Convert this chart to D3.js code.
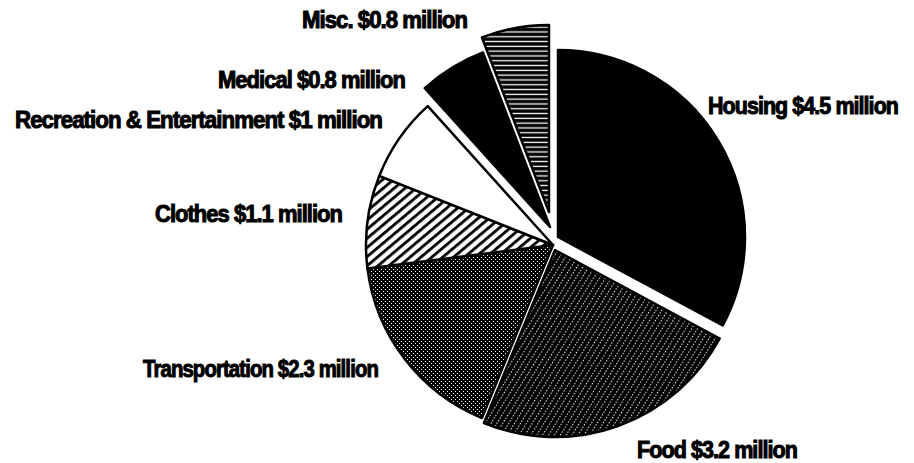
<!DOCTYPE html>
<html>
<head>
<meta charset="utf-8">
<script src="https://cdn.jsdelivr.net/npm/d3@7"></script>
<style>
  body { margin: 0; background: #fff; }
  text { font-family: 'Liberation Sans Narrow', 'Arial Narrow', 'Liberation Sans', sans-serif; font-weight: bold; }
</style>
</head>
<body>
<script>
// Data: household spending breakdown (millions of dollars)
var categories = ['Housing', 'Food', 'Transportation', 'Clothes', 'Recreation & Entertainment', 'Medical', 'Misc.'];
var values     = [4.5, 3.2, 2.3, 1.1, 1, 0.8, 0.8];
var valueText  = ['$4.5', '$3.2', '$2.3', '$1.1', '$1', '$0.8', '$0.8'];

var width  = 914,
    height = 463,
    cx = 553, cy = 245,
    radius = 187;

// how far each slice is pulled out of the pie
var explode = {
    'Housing':  [5, -8],
    'Food':     [2, 5],
    'Medical':  [-3, -18],
    'Misc.':    [-4, -33]
};

// label placement: x, baseline, anchor, width
var labelLayout = {
    'Housing':                    [708, 114, 'start', 190],
    'Food':                       [637, 458, 'start', 160],
    'Transportation':             [378, 377, 'end', 235],
    'Clothes':                    [342, 222, 'end', 187],
    'Recreation & Entertainment': [382, 128, 'end', 367],
    'Medical':                    [405, 88, 'end', 187],
    'Misc.':                      [467, 28, 'end', 165]
};

var fills = {
    'Housing': '#000',
    'Food': 'url(#pFood)',
    'Transportation': 'url(#pTrans)',
    'Clothes': 'url(#pClothes)',
    'Recreation & Entertainment': '#fff',
    'Medical': '#000',
    'Misc.': 'url(#pMisc)'
};

var data = categories.map(function(c, i) {
    return { name: c, value: values[i], label: c + ' ' + valueText[i] + ' million' };
});

var svg = d3.select('body').append('svg')
    .attr('width', width)
    .attr('height', height);

// Patterns
var defs = svg.append('defs');

// food: black with dotted white diagonals
var pf = defs.append('pattern').attr('id', 'pFood')
    .attr('patternUnits', 'userSpaceOnUse')
    .attr('width', 5).attr('height', 3)
    .attr('patternTransform', 'rotate(32)');
pf.append('rect').attr('width', 5).attr('height', 3).attr('fill', '#000');
pf.append('rect').attr('x', 2).attr('y', 0).attr('width', 1.1).attr('height', 1.3).attr('fill', '#fff');

// transportation: fine dot screen
var pt = defs.append('pattern').attr('id', 'pTrans')
    .attr('patternUnits', 'userSpaceOnUse')
    .attr('width', 4).attr('height', 4);
pt.append('rect').attr('width', 4).attr('height', 4).attr('fill', '#000');
pt.append('rect').attr('x', 0).attr('y', 0).attr('width', 1).attr('height', 1).attr('fill', '#fff');
pt.append('rect').attr('x', 2).attr('y', 2).attr('width', 1).attr('height', 1).attr('fill', '#fff');

// clothes: black diagonal hatch on white
var pc = defs.append('pattern').attr('id', 'pClothes')
    .attr('patternUnits', 'userSpaceOnUse')
    .attr('width', 7).attr('height', 7)
    .attr('patternTransform', 'rotate(50)');
pc.append('rect').attr('width', 7).attr('height', 7).attr('fill', '#fff');
pc.append('rect').attr('x', 0).attr('width', 2.8).attr('height', 7).attr('fill', '#000');

// misc: horizontal white lines on black
var pm = defs.append('pattern').attr('id', 'pMisc')
    .attr('patternUnits', 'userSpaceOnUse')
    .attr('width', 10).attr('height', 4.8);
pm.append('rect').attr('width', 10).attr('height', 4.8).attr('fill', '#000');
pm.append('rect').attr('y', 1.7).attr('width', 10).attr('height', 1.3).attr('fill', '#fff');

// Pie
var pie = d3.pie().sort(null).value(function(d) { return d.value; });
var arc = d3.arc().innerRadius(0).outerRadius(radius);

svg.append('g')
    .attr('transform', 'translate(' + cx + ',' + cy + ')')
    .selectAll('path')
    .data(pie(data))
    .enter().append('path')
    .attr('d', arc)
    .attr('transform', function(d) {
        var off = explode[d.data.name] || [0, 0];
        return 'translate(' + off[0] + ',' + off[1] + ')';
    })
    .style('fill', function(d) { return fills[d.data.name]; })
    .style('stroke', '#000')
    .style('stroke-width', 2.5)
    .style('stroke-linejoin', 'round');

// Labels
svg.append('g').selectAll('text')
    .data(data)
    .enter().append('text')
    .attr('x', function(d) { return labelLayout[d.name][0]; })
    .attr('y', function(d) { return labelLayout[d.name][1]; })
    .attr('text-anchor', function(d) { return labelLayout[d.name][2]; })
    .attr('textLength', function(d) { return labelLayout[d.name][3]; })
    .attr('lengthAdjust', 'spacingAndGlyphs')
    .style('font-size', '23px')
    .style('letter-spacing', '-1px')
    .style('stroke', '#000')
    .style('stroke-width', 1)
    .text(function(d) { return d.label; });
</script>
</body>
</html>
